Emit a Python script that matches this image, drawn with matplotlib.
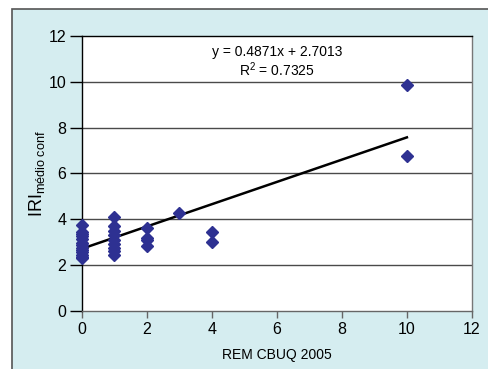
import numpy as np
import matplotlib.pyplot as plt
from matplotlib.patches import Rectangle

plt.rcParams["font.family"] = ["Liberation Sans", "DejaVu Sans"]
plt.rcParams["mathtext.fontset"] = "custom"
plt.rcParams["mathtext.rm"] = "Liberation Sans"
plt.rcParams["mathtext.it"] = "Liberation Sans:italic"

# ── data ─────────────────────────────────────────────────────────────────────
rem_x = [0] * 13 + [1] * 9 + [2] * 4 + [3] + [4] * 2 + [10] * 2
iri_y = [3.75, 3.45, 3.35, 3.25, 3.15, 2.95, 2.85, 2.75, 2.65, 2.55, 2.45, 2.35, 2.3,
         4.1, 3.7, 3.5, 3.3, 3.1, 2.9, 2.75, 2.6, 2.45,
         3.62, 3.19, 3.09, 2.84,
         4.25,
         3.42, 3.01,
         9.85, 6.75]
slope, intercept, r2 = 0.4871, 2.7013, 0.7325
x_ticks = [0, 2, 4, 6, 8, 10, 12]
y_ticks = [0, 2, 4, 6, 8, 10, 12]

BG = "#d5edf0"
BLUE = "#2e3192"

fig = plt.figure(figsize=(4.89, 3.69), dpi=100)
fig.patches.append(Rectangle((12 / 489, -0.1), 1.2, 1.1 - 9 / 369,
                             transform=fig.transFigure, facecolor=BG,
                             edgecolor="#555555", lw=1.2, zorder=-10))

ax = fig.add_axes([0.1667, 0.158, 0.7985, 0.7444])
ax.set_zorder(1)
ax.set_facecolor("white")
ax.set_xlim(0, 12)
ax.set_ylim(0, 12)
ax.set_xticks(x_ticks)
ax.set_yticks(y_ticks)

for yv in y_ticks[1:-1]:
    ax.axhline(yv, color="#4a4a4a", lw=1.0, zorder=1)

ax.spines["left"].set_color("black")
ax.spines["top"].set_color("black")
ax.spines["bottom"].set_color("#666666")
ax.spines["right"].set_color("#777777")
for s in ax.spines.values():
    s.set_linewidth(1.0)

ax.tick_params(axis="y", direction="out", length=9, width=1, labelsize=11.5, pad=2)
ax.tick_params(axis="x", direction="out", length=5, width=1, labelsize=11.5, pad=3,
               color="#666666")

xl = np.array([0, 10])
ax.plot(xl, slope * xl + intercept, color="black", lw=1.8, zorder=3)
ax.plot(rem_x, iri_y, "D", color=BLUE, markersize=6, zorder=4, clip_on=False)

ax.text(6, 11.3, f"y = {slope}x + {intercept}", ha="center", va="center", fontsize=10)
ax.text(6, 10.55, f"R$^2$ = {r2}", ha="center", va="center", fontsize=10)

ax.set_xlabel("REM CBUQ 2005", fontsize=10, labelpad=8)
ax.set_ylabel(r"IRI$_{\mathrm{médio\ conf}}$", fontsize=13, labelpad=1)

fig.savefig("out.png", dpi=100)
